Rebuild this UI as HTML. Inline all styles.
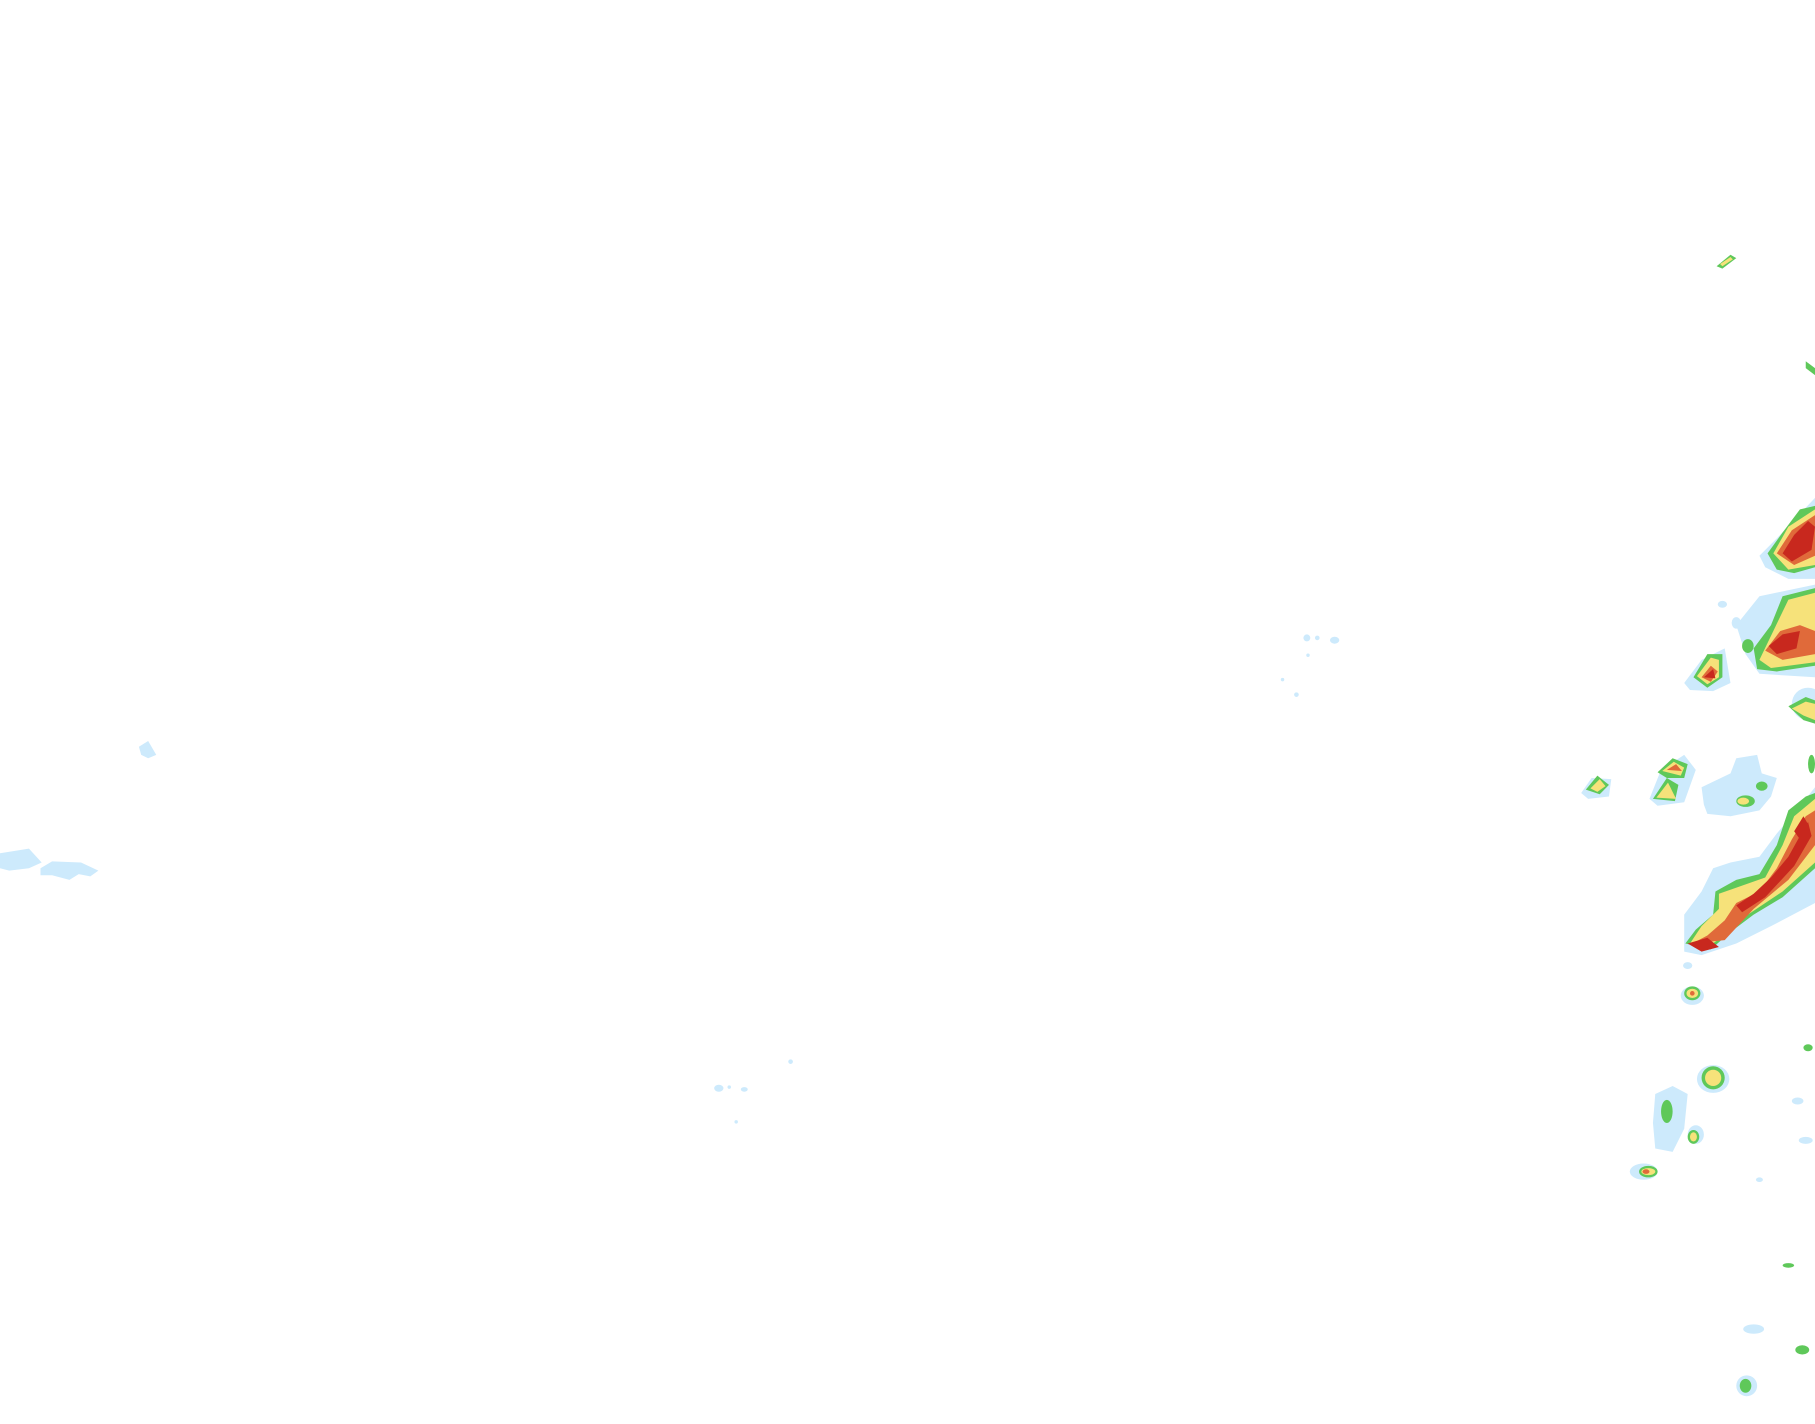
<!DOCTYPE html>
<html><head><meta charset="utf-8"><style>
html,body{margin:0;padding:0;background:#fff;}
svg{display:block;}
</style></head><body>
<svg width="1815" height="1424" viewBox="0 0 1568 1230" preserveAspectRatio="none" xmlns="http://www.w3.org/2000/svg">
<rect width="1568" height="1230" fill="#fff"/>
<g fill="#cdeafc">
<path d="M120,645 L128,640 L135,652 L128,655 L122,652Z"/>
<path d="M0,737 L25,733 L36,745 L25,750 L8,752 L0,750Z"/>
<path d="M35,750 L45,744 L70,745 L85,752 L78,757 L68,755 L60,760 L45,756 L35,756Z"/>
<ellipse cx="621" cy="940" rx="4" ry="3"/><ellipse cx="643" cy="941" rx="3" ry="2"/><ellipse cx="630" cy="939" rx="1.5" ry="1.5"/>
<ellipse cx="683" cy="917" rx="2" ry="2"/><ellipse cx="636" cy="969" rx="1.5" ry="1.5"/>
<ellipse cx="1129" cy="551" rx="3" ry="3"/><ellipse cx="1138" cy="551" rx="2" ry="2"/><ellipse cx="1153" cy="553" rx="4" ry="3"/><ellipse cx="1130" cy="566" rx="1.5" ry="1.5"/>
<ellipse cx="1108" cy="587" rx="1.5" ry="1.5"/><ellipse cx="1120" cy="600" rx="2" ry="2"/>
<path d="M1470,680 L1495,668 L1500,655 L1518,652 L1522,668 L1535,672 L1530,688 L1520,700 L1495,705 L1475,703 L1472,695Z"/>
<path d="M1455,790 L1470,770 L1480,750 L1495,745 L1520,740 L1535,720 L1560,690 L1568,680 L1568,780 L1530,800 L1500,815 L1470,825 L1455,822Z"/>
<path d="M1520,480 L1535,465 L1568,430 L1568,500 L1545,500 L1525,490Z"/>
<path d="M1500,540 L1520,515 L1568,505 L1568,585 L1520,582 L1508,565Z"/>
<path d="M1455,590 L1470,570 L1490,560 L1495,590 L1480,597 L1460,596Z"/>
<path d="M1430,945 L1445,938 L1458,945 L1455,975 L1445,995 L1430,992 L1428,970Z"/>
<path d="M1366,685 L1375,672 L1392,673 L1390,688 L1372,690Z"/>
<path d="M1425,690 L1435,665 L1455,652 L1465,665 L1455,693 L1432,696Z"/>
<ellipse cx="1562" cy="608" rx="14" ry="14"/>
<ellipse cx="1480" cy="932" rx="14" ry="12"/>
<ellipse cx="1515" cy="1148" rx="9" ry="4"/><ellipse cx="1553" cy="951" rx="5" ry="3"/><ellipse cx="1560" cy="985" rx="6" ry="3"/>
<ellipse cx="1488" cy="522" rx="4" ry="3"/><ellipse cx="1500" cy="538" rx="4" ry="5"/>
<ellipse cx="1420" cy="1012" rx="12" ry="7"/><ellipse cx="1465" cy="980" rx="7" ry="8"/>
<ellipse cx="1509" cy="1197" rx="9" ry="9"/><ellipse cx="1520" cy="1019" rx="3" ry="2"/>
<ellipse cx="1458" cy="834" rx="4" ry="3"/><ellipse cx="1462" cy="860" rx="10" ry="8"/>
</g>
<g fill="#5fc85a">
<path d="M1483,230 L1495,220 L1500,223 L1488,232Z"/>
<path d="M1560,312 L1568,318 L1568,324 L1560,318Z"/>
<path d="M1527,478 L1540,460 L1555,440 L1568,437 L1568,490 L1550,495 L1535,492Z"/>
<path d="M1515,560 L1530,540 L1540,515 L1568,508 L1568,575 L1535,580 L1518,578Z"/>
<path d="M1463,585 L1475,565 L1488,565 L1488,585 L1475,594Z"/>
<path d="M1370,682 L1380,670 L1390,678 L1382,686Z"/>
<path d="M1428,690 L1440,672 L1450,678 L1447,692Z"/>
<path d="M1432,667 L1445,655 L1458,660 L1455,672 L1440,672Z"/>
<path d="M1456,815 L1465,803 L1480,790 L1482,770 L1500,760 L1520,755 L1535,730 L1545,700 L1560,688 L1568,685 L1568,750 L1540,775 L1515,790 L1495,805 L1478,820Z"/>
<path d="M1545,610 L1560,602 L1568,605 L1568,625 L1558,622Z"/>
<ellipse cx="1440" cy="960" rx="5" ry="10"/>
<ellipse cx="1480" cy="931" rx="10" ry="10"/>
<ellipse cx="1463" cy="982" rx="5" ry="6"/>
<ellipse cx="1424" cy="1012" rx="8" ry="5"/>
<ellipse cx="1462" cy="858" rx="7" ry="6"/>
<ellipse cx="1510" cy="558" rx="5" ry="6"/>
<ellipse cx="1508" cy="692" rx="8" ry="5"/><ellipse cx="1522" cy="679" rx="5" ry="4"/>
<ellipse cx="1508" cy="1197" rx="5" ry="6"/><ellipse cx="1557" cy="1166" rx="6" ry="4"/>
<ellipse cx="1545" cy="1093" rx="5" ry="2"/><ellipse cx="1562" cy="905" rx="4" ry="3"/>
<ellipse cx="1565" cy="660" rx="3" ry="8"/>
</g>
<g fill="#f6e27a">
<path d="M1486,228 L1495,222 L1497,224 L1488,230Z"/>
<path d="M1532,478 L1545,455 L1568,440 L1568,488 L1545,492Z"/>
<path d="M1520,570 L1532,545 L1545,518 L1568,512 L1568,572 L1530,577Z"/>
<path d="M1466,584 L1478,568 L1485,570 L1485,585 L1475,591Z"/>
<path d="M1374,681 L1382,673 L1387,679 L1380,684Z"/>
<path d="M1431,689 L1441,676 L1448,690Z"/>
<path d="M1436,666 L1446,658 L1455,663 L1452,670Z"/>
<path d="M1460,815 L1470,800 L1485,785 L1485,772 L1505,765 L1525,758 L1540,730 L1550,705 L1568,690 L1568,745 L1540,770 L1510,790 L1490,808 L1475,818Z"/>
<path d="M1548,612 L1560,606 L1568,608 L1568,622 L1558,618Z"/>
<ellipse cx="1480" cy="931" rx="7" ry="7"/><ellipse cx="1463" cy="982" rx="3" ry="4"/>
<ellipse cx="1424" cy="1012" rx="6" ry="3"/><ellipse cx="1462" cy="858" rx="5" ry="4"/>
<ellipse cx="1506" cy="692" rx="5" ry="3"/>
</g>
<g fill="#e06a3a">
<path d="M1535,478 L1548,458 L1568,445 L1568,480 L1550,488Z"/>
<path d="M1525,562 L1538,545 L1555,540 L1568,545 L1568,565 L1540,570Z"/>
<path d="M1470,585 L1478,575 L1484,580 L1478,589Z"/>
<path d="M1440,665 L1448,660 L1453,666Z"/>
<path d="M1462,815 L1475,808 L1490,795 L1500,780 L1520,770 L1535,750 L1548,725 L1560,705 L1568,700 L1568,730 L1545,760 L1515,785 L1490,812Z"/>
<ellipse cx="1422" cy="1012" rx="3" ry="2"/><ellipse cx="1462" cy="858" rx="2" ry="2"/>
</g>
<g fill="#c8281e">
<path d="M1540,478 L1550,462 L1562,450 L1568,455 L1565,475 L1548,485Z"/>
<path d="M1528,558 L1540,548 L1555,545 L1552,560 L1535,565Z"/>
<path d="M1472,585 L1480,578 L1482,586Z"/>
<path d="M1458,815 L1475,810 L1485,818 L1470,822Z"/>
<path d="M1500,782 L1515,772 L1530,758 L1545,740 L1555,722 L1562,710 L1565,722 L1550,748 L1525,775 L1505,788Z"/>
<path d="M1550,718 L1558,705 L1562,712 L1555,725Z"/>
</g>
</svg>
</body></html>
